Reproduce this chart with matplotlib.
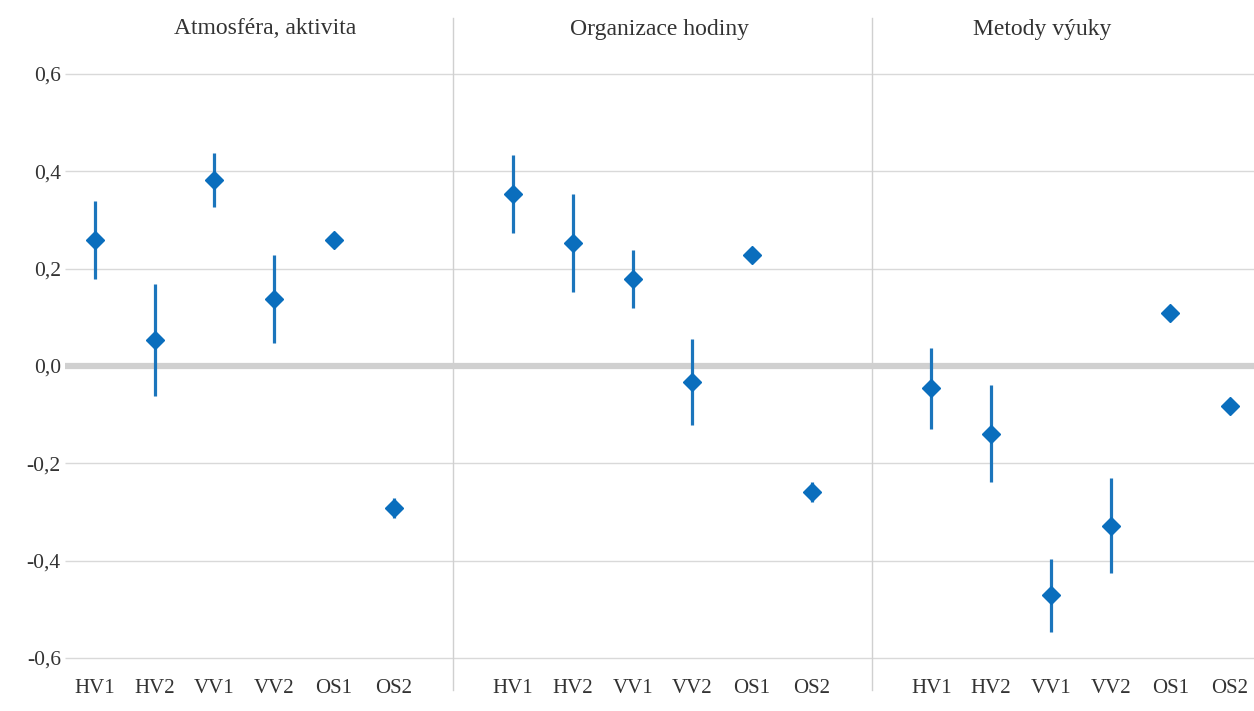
import matplotlib
matplotlib.use("Agg")
import matplotlib.pyplot as plt
import matplotlib.transforms as mtransforms

plt.rcParams['font.family'] = ['Liberation Serif', 'DejaVu Serif']

panels = ["Atmosféra, aktivita", "Organizace hodiny", "Metody výuky"]
categories = ["HV1", "HV2", "VV1", "VV2", "OS1", "OS2"]

atmos_vals = [0.259, 0.053, 0.382, 0.138, 0.259, -0.292]
atmos_err = [0.080, 0.115, 0.055, 0.090, 0.008, 0.020]
org_vals = [0.354, 0.253, 0.179, -0.033, 0.228, -0.259]
org_err = [0.080, 0.100, 0.060, 0.088, 0.008, 0.020]
metody_vals = [-0.046, -0.139, -0.471, -0.328, 0.108, -0.083]
metody_err = [0.083, 0.100, 0.075, 0.098, 0.008, 0.008]

yticks = [-0.6, -0.4, -0.2, 0.0, 0.2, 0.4, 0.6]
ytick_labels = ["-0,6", "-0,4", "-0,2", "0,0", "0,2", "0,4", "0,6"]

W, H = 1254, 711
fig = plt.figure(figsize=(W / 100, H / 100), dpi=100)
ax = fig.add_axes([65 / W, (H - 658) / H, 1 - 65 / W, (658 - 74) / H])

marker_col = '#0A6EBD'
err_col = '#1B75BC'
grid_col = '#D9D9D9'
text_col = '#333333'

series = [(atmos_vals, atmos_err), (org_vals, org_err), (metody_vals, metody_err)]
title_px = [265, 659, 1042]
xticks, xlabels = [], []
for p, (vals, errs) in enumerate(series):
    xs = [p * 7 + i for i in range(len(categories))]
    ax.errorbar(xs, vals, yerr=errs, fmt='none', ecolor=err_col, elinewidth=2.3,
                capsize=0, zorder=3)
    ax.plot(xs, vals, linestyle='none', marker='D', markersize=9, color=marker_col,
            markeredgecolor=marker_col, zorder=4)
    xticks += xs
    xlabels += categories

ax.set_xlim(-0.5, 19.4)
ax.set_ylim(-0.6, 0.6)

for y in yticks:
    if y == 0:
        ax.axhline(y, color='#D0D0D0', lw=4.5, zorder=1, clip_on=False,
                   solid_capstyle='butt')
    else:
        ax.axhline(y, color=grid_col, lw=1, zorder=1, clip_on=False,
                   solid_capstyle='butt')

# panel separators
trans = mtransforms.blended_transform_factory(ax.transData, ax.transAxes)
y_top = (H - 18 - (H - 658)) / (658 - 74)
y_bot = (H - 690 - (H - 658)) / (658 - 74)
for sx in [6, 13]:
    ax.plot([sx, sx], [y_bot, y_top], color='#D0D0D0', lw=1, transform=trans,
            clip_on=False, zorder=1)

# panel titles
px_per_slot = 59.7
for name, tpx in zip(panels, title_px):
    xd = (tpx - 95) / px_per_slot
    ax.text(xd, (H - 29 - (H - 658)) / (658 - 74), name, transform=trans,
            ha='center', va='center', fontsize=17, color=text_col)

ax.set_xticks(xticks)
ax.set_xticklabels(xlabels, fontsize=15, color=text_col)
ax.set_yticks(yticks)
ax.set_yticklabels(ytick_labels, fontsize=15.5, color=text_col)
ax.tick_params(axis='both', length=0)
ax.tick_params(axis='x', pad=15)
ax.tick_params(axis='y', pad=3)
for s in ax.spines.values():
    s.set_visible(False)

fig.savefig("out.png", dpi=100)
